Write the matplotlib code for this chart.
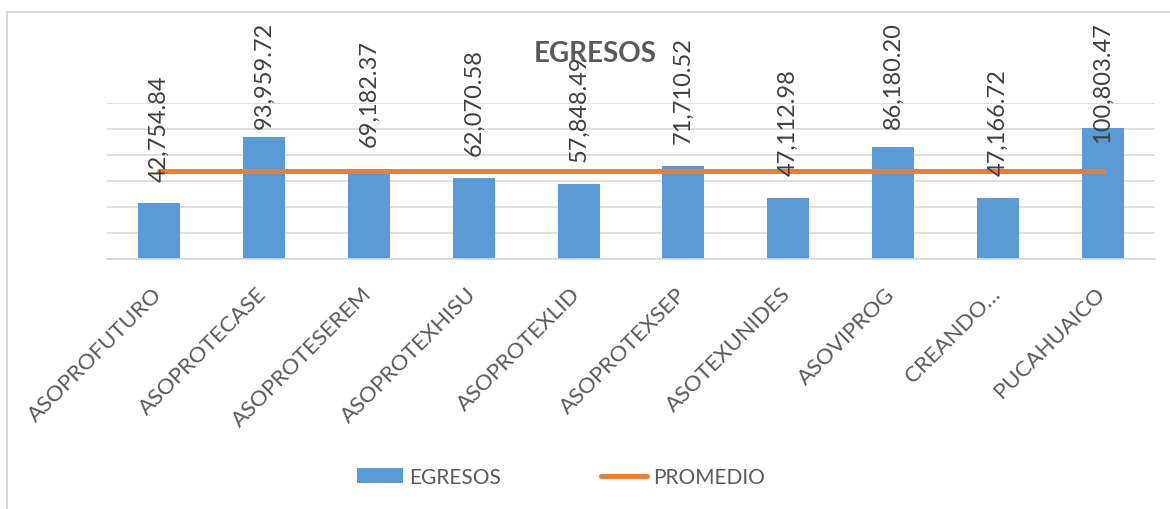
import matplotlib
matplotlib.use("Agg")
import matplotlib.pyplot as plt
import matplotlib.transforms as mtransforms
from matplotlib.patches import Rectangle, Patch
from matplotlib.lines import Line2D
import numpy as np

# ---- data ----
categories = ["ASOPROFUTURO", "ASOPROTECASE", "ASOPROTESEREM", "ASOPROTEXHISU",
              "ASOPROTEXLID", "ASOPROTEXSEP", "ASOTEXUNIDES", "ASOVIPROG",
              "CREANDO…", "PUCAHUAICO"]
egresos = [42754.84, 93959.72, 69182.37, 62070.58, 57848.49,
           71710.52, 47112.98, 86180.20, 47166.72, 100803.47]
promedio = [sum(egresos) / len(egresos)] * len(egresos)

BAR_COLOR = "#5B9BD5"
LINE_COLOR = "#ED7D31"
GRID_COLOR = "#D9D9D9"
TEXT_COLOR = "#595959"
LABEL_COLOR = "#404040"
FONT = ["Lato", "DejaVu Sans"]

plt.rcParams["font.family"] = FONT

W, H, DPI = 1170, 510, 100
fig = plt.figure(figsize=(W / DPI, H / DPI), dpi=DPI)

# outer chart frame
fig.add_artist(Rectangle((6.5 / W, -0.1), 1.2, (H - 12.5) / H + 0.1,
                         transform=fig.transFigure, fill=False,
                         ec=GRID_COLOR, lw=1.5, zorder=0))

left, right, top, bottom = 107, 1155, 104, 260
ax = fig.add_axes([left / W, 1 - bottom / H, (right - left) / W, (bottom - top) / H])

x = np.arange(len(categories))
ax.bar(x, egresos, width=0.40, color=BAR_COLOR, zorder=2)
ax.plot(x, promedio, color=LINE_COLOR, lw=3.6, solid_capstyle="round", zorder=3)

ax.set_xlim(-0.5, len(categories) - 0.5)
ax.set_ylim(0, 120000)
ax.set_yticks(np.arange(0, 120001, 20000))
ax.yaxis.grid(True, color=GRID_COLOR, lw=1.2, zorder=0)
ax.set_axisbelow(True)
ax.tick_params(axis="y", left=False, labelleft=False)
ax.tick_params(axis="x", bottom=False, pad=14)
for s in ["top", "right", "left"]:
    ax.spines[s].set_visible(False)
ax.spines["bottom"].set_color(GRID_COLOR)
ax.spines["bottom"].set_linewidth(1.2)

ax.set_xticks(x)
ax.set_xticklabels(categories, rotation=45, ha="right", rotation_mode="anchor",
                   fontsize=16, color=TEXT_COLOR)
offset = mtransforms.ScaledTranslation(-8 / DPI, 0, fig.dpi_scale_trans)
for lbl in ax.get_xticklabels():
    lbl.set_transform(lbl.get_transform() + offset)

# value labels above each bar, kept inside the chart area
labels = []
for xi, v in zip(x, egresos):
    t = ax.annotate(f"{v:,.2f}", (xi, v), xytext=(0, 16.5), textcoords="offset points",
                    rotation=90, ha="center", va="bottom", fontsize=17,
                    color=LABEL_COLOR, zorder=5, annotation_clip=False)
    labels.append(t)

fig.canvas.draw()
limit = H - 22
for t in labels:
    bb = t.get_window_extent()
    if bb.y1 > limit:
        dy = (bb.y1 - limit) * 72 / DPI
        t.xyann = (0, 16.5 - dy)

fig.text(595 / W, 1 - 54 / H, "EGRESOS", ha="center", va="center",
         fontsize=20, fontweight="bold", color=TEXT_COLOR, zorder=10)

handles = [Patch(facecolor=BAR_COLOR, edgecolor="none"),
           Line2D([0], [0], color=LINE_COLOR, lw=3.6, solid_capstyle="round")]
fig.legend(handles, ["EGRESOS", "PROMEDIO"], loc="center",
           bbox_to_anchor=(561 / W, 1 - 478 / H), ncol=2, frameon=False,
           fontsize=15, labelcolor=TEXT_COLOR, handlelength=2.2, handleheight=0.75,
           handletextpad=0.3, columnspacing=4.8)

fig.savefig("out.png", dpi=DPI)
